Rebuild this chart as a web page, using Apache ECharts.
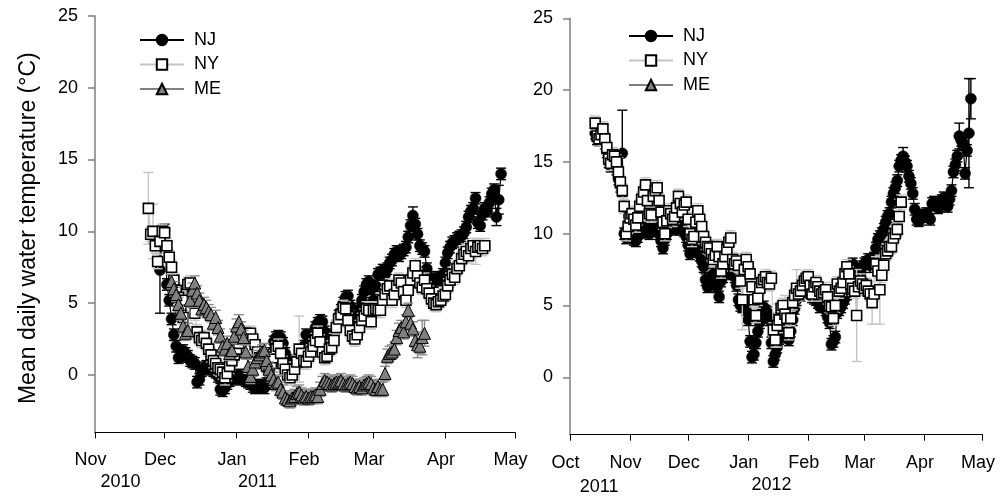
<!DOCTYPE html>
<html><head><meta charset="utf-8">
<script src="https://cdn.jsdelivr.net/npm/echarts@6/dist/echarts.min.js"></script>
<style>html,body{margin:0;padding:0;background:#fff}#c{width:1007px;height:500px}</style>
</head><body><div id="c"></div>
<script>
// ---------------- DATA ----------------
// Left panel: winter 2010-2011 (daily means, first date given)
const njA_start = '2010-11-29';
const njA = [7.3, 9.8,
  10.1, 6.3, 5.2, 3.9, 2.8, 2.0, 1.2, 1.3, 1.7, 1.5, 1.3, 1.0, 0.9, 0.8, -0.5, -0.3, 0.3, 0.5, 0.6, 0.4, 0.5, 0.3, 0.2, -0.1, -1.0, -1.1, -0.9, -0.6, -0.4, -0.3, -0.2,
  -0.2, 0.0, -0.3, -0.2, -0.4, -0.5, -0.6, -0.8, -0.9, -0.8, -0.7, -0.8, -0.9, -0.6, 0.3, 1.5, 2.3, 2.6, 2.7, 2.6, 2.2, 1.5, 1.0, 0.6, 0.5, 0.7, 0.9, 1.0, 1.5, 2.0, 2.8,
  2.6, 2.2, 2.7, 3.3, 3.6, 3.8, 3.7, 3.0, 2.4, 2.0, 2.2, 2.8, 3.4, 4.1, 4.5, 5.0, 5.4, 5.5, 4.8, 4.0, 3.6, 4.0, 4.6, 5.2, 5.8, 6.3, 6.5, 6.0,
  5.2, 6.2, 7.0, 7.1, 7.3, 7.0, 7.4, 7.8, 8.0, 8.4, 8.6, 8.3, 8.5, 8.7, 8.9, 9.6, 10.4, 11.1, 10.5, 9.8, 9.0, 8.8, 8.6, 7.4, 6.8, 6.6, 6.5, 6.7, 6.8, 6.6, 7.0,
  7.8, 8.5, 8.9, 9.2, 9.3, 9.5, 9.6, 9.7, 9.9, 10.3, 11.0, 11.4, 11.6, 12.3, 10.6, 10.4, 11.2, 11.6, 11.4, 12.0, 12.6, 12.9, 11.0, 12.2, 14.0];
const nyA_start = '2010-11-24';
const nyA = [11.6, 9.8, 10.0, 9.0, 7.9, 9.3, 10.0,
  9.9, 9.0, 8.2, 7.5, 6.6, 5.9, 5.4, 4.5, 4.0, 5.2, 6.3, 6.4, 5.5, 4.3, 3.0, 2.6, 2.4, 2.6, 2.2, 1.8, 1.4, 1.0, 0.8, 0.5, 0.4, 0.2, -0.2, 0.1, 0.6, 1.0, 1.4,
  1.8, 2.2, 2.5, 2.8, 2.9, 2.7, 2.9, 2.5, 2.1, 1.6, 1.2, 1.0, 0.8, 0.6, 0.5, 0.8, 1.2, 1.8, 2.0, 1.5, 0.8, 0.4, 0.0, -0.2, 0.0, 0.4, 0.9, 1.8, 1.5, 1.0, 0.9,
  1.3, 1.6, 2.0, 2.4, 2.9, 2.3, 1.6, 1.2, 1.3, 1.8, 1.9, 2.4, 3.3, 3.9, 4.2, 4.7, 4.6, 3.8, 3.1, 2.7, 2.5, 2.8, 3.3, 3.8, 4.1, 4.6, 4.5, 3.7,
  4.5, 4.6, 4.5, 4.5, 5.2, 5.6, 6.0, 6.2, 5.2, 5.6, 6.2, 6.6, 6.4, 5.8, 5.2, 5.9, 6.6, 7.1, 7.6, 6.9, 6.4, 6.1, 6.6, 6.0, 5.7, 5.3, 5.0, 4.9, 5.1, 5.2, 5.5,
  5.6, 6.2, 6.6, 7.0, 6.8, 7.4, 7.6, 8.1, 8.4, 8.6, 8.3, 8.8, 9.0, 8.6, 8.9, 9.0, 8.8, 9.0];
const meA_start = '2010-12-04';
const meA = [6.5, 6.0, 5.6, 4.9, 4.3, 3.4, 2.9, 3.1, 5.2, 5.9, 6.4, 5.7, 5.2, 4.6, 4.9, 4.7, 4.4, 4.2, 3.6, 4.0, 3.3, 2.7, 2.0, 1.8, 2.2, 1.5, 1.7, 2.7,
  3.4, 3.7, 3.2, 2.6, 1.6, 0.6, -0.1, 0.4, 0.9, 1.2, 1.4, 1.6, 1.7, 1.0, 0.4, 0.0, -0.3, -0.6, -0.5, -1.0, -1.2, -1.6, -1.7, -1.8, -1.6, -1.5, -1.3, -1.2, -1.4, -1.6, -1.5,
  -1.6, -1.5, -1.5, -1.4, -1.5, -1.0, -0.6, -0.4, -0.5, -0.6, -0.7, -0.6, -0.5, -0.5, -0.4, -0.6, -0.7, -0.6, -0.5, -0.6, -0.8, -0.9, -0.8, -0.9, -0.7, -0.6, -0.5, -0.6,
  -0.9, -1.0, -0.8, -1.0, -1.0, 0.1, 1.3, 1.5, 1.6, 1.8, 2.6, 3.1, 3.3, 3.0, 3.7, 4.5, 3.6, 3.2, 2.4, 2.1, 2.0, 2.6, 2.9];

// Right panel: winter 2011-2012
const njB_start = '2011-10-14';
const njB = [17.0, 16.6, 16.5, 16.7, 16.9, 16.3, 15.7, 15.0, 14.7, 15.2, 15.0, 14.5, 13.8, 13.3, 15.6, 10.0, 9.7, 9.8,
  10.2, 9.9, 9.6, 9.5, 9.8, 10.1, 10.3, 10.2, 10.4, 10.1, 10.0, 10.3, 10.4, 10.2, 10.3, 10.0, 9.5, 9.0, 9.6, 10.0, 10.4, 10.6, 10.5, 10.4, 10.3, 10.6, 10.8, 10.4, 10.2, 9.8,
  9.2, 8.6, 8.8, 9.1, 9.3, 9.0, 8.5, 8.1, 7.7, 6.8, 6.3, 6.4, 6.9, 7.2, 6.8, 6.3, 5.6, 6.7, 7.0, 7.3, 7.5, 7.6, 7.4, 7.2, 7.0, 6.4, 5.4, 5.0, 4.9, 5.2, 4.7,
  4.0, 2.5, 1.4, 1.6, 2.4, 3.2, 3.8, 4.7, 4.9, 4.6, 4.5, 4.0, 2.4, 1.1, 1.6, 2.1, 2.7, 3.3, 3.6, 3.2, 2.8, 2.6, 3.2, 4.0, 4.8, 5.4, 5.8, 5.7, 5.9, 6.2, 6.1,
  6.3, 6.0, 5.6, 5.5, 5.4, 5.2, 4.9, 5.1, 5.0, 4.7, 4.2, 3.8, 2.3, 2.5, 2.8, 4.5, 4.7, 4.9, 5.2, 5.5, 5.8, 6.3, 7.2, 7.9, 7.5, 7.0, 6.8, 7.3, 7.7,
  7.9, 8.0, 8.2, 8.0, 7.7, 8.3, 9.0, 9.6, 9.8, 10.0, 10.3, 10.8, 11.2, 11.4, 12.2, 12.8, 13.2, 13.7, 14.7, 15.1, 15.4, 15.0, 14.7, 14.0, 13.5, 12.8, 11.7, 11.0, 10.9, 11.0, 11.2,
  11.3, 11.4, 11.2, 11.0, 12.1, 12.2, 12.0, 11.8, 11.9, 12.3, 12.5, 12.1, 11.9, 12.4, 13.0, 14.3, 14.8, 15.4, 16.8, 16.5, 16.3, 14.2, 15.8, 17.0, 19.4];
const nyB_start = '2011-10-14';
const nyB = [17.7, 16.8, 16.6, 16.9, 17.3, 16.6, 16.0, 15.2, 14.9, 15.5, 15.4, 15.0, 14.3, 13.6, 13.0, 11.9, 10.0, 10.5,
  11.1, 11.4, 11.0, 10.6, 11.1, 11.9, 12.4, 12.9, 13.4, 12.3, 11.4, 11.3, 12.6, 13.0, 13.2, 12.3, 11.5, 10.8, 10.0, 10.9, 11.6, 11.4, 11.0, 11.2, 11.8, 12.6, 12.1, 11.5, 12.0, 12.2,
  11.0, 10.0, 9.6, 9.8, 10.8, 11.6, 11.0, 10.5, 9.8, 9.4, 9.1, 9.0, 8.6, 8.2, 8.5, 9.1, 8.4, 7.4, 7.9, 8.4, 8.9, 9.4, 9.7, 8.2, 7.9, 8.1, 7.8, 6.7, 5.4, 7.5, 8.2,
  7.7, 7.2, 6.3, 5.4, 4.3, 5.5, 6.2, 6.6, 6.8, 7.0, 6.6, 6.5, 6.9, 3.3, 2.6, 3.6, 4.0, 4.8, 5.0, 4.4, 4.1, 3.1, 4.1, 5.2, 5.7, 6.2, 5.8, 6.0, 6.4, 6.7, 6.9,
  7.0, 6.4, 5.8, 6.3, 6.6, 6.3, 6.0, 5.8, 5.9, 6.1, 5.6, 5.0, 4.9, 4.1, 5.0, 6.5, 6.0, 6.2, 6.6, 7.2, 7.7, 7.2, 6.5, 6.2, 6.0, 4.3, 6.3, 6.7, 6.5,
  6.2, 6.4, 6.0, 5.8, 5.2, 5.8, 7.9, 7.4, 6.1, 7.1, 7.8, 8.6, 8.8, 9.1, 9.1, 9.7, 10.0, 10.3, 11.2, 12.2];

// Error bars (SE): typical size per series, plus the visibly larger ones
const njErrTypical = 0.4, nyErrTypical = 0.5, meErrTypical = 0.5;
const njA_bigErr = [['2010-11-29', 3.0], ['2011-04-24', 1.0], ['2011-04-23', 0.6], ['2011-03-18', 0.6]];
const nyA_bigErr = [['2010-11-24', 2.5], ['2010-11-26', 1.9], ['2011-01-28', 2.3], ['2011-04-14', 0.9]];
const meA_bigErr = [['2011-03-22', 1.2], ['2011-03-20', 0.9], ['2011-03-23', 0.9]];
const njB_bigErr = [['2011-10-28', 3.0], ['2012-04-24', 3.8], ['2012-04-25', 1.4], ['2012-04-19', 0.9], ['2012-03-21', 0.6]];
const nyB_bigErr = [['2012-02-26', 3.2], ['2012-03-05', 1.5], ['2012-03-09', 2.4], ['2011-12-29', 2.1], ['2012-01-16', 1.5], ['2012-01-20', 1.3], ['2012-01-26', 1.3], ['2011-10-26', 1.0], ['2012-03-19', 1.2]];

// Axes
const yTicks = [0, 5, 10, 15, 20, 25];
const yMin = -4, yMax = 25;
const monthsA = ['Nov', 'Dec', 'Jan', 'Feb', 'Mar', 'Apr', 'May'];
const monthDatesA = ['2010-11-01', '2010-12-01', '2011-01-01', '2011-02-01', '2011-03-01', '2011-04-01', '2011-05-01'];
const yearsA = ['2010', '2011'];
const yearAnchorA = ['2010-11-12', '2011-01-10'];   // dates under which the year labels sit
const monthsB = ['Oct', 'Nov', 'Dec', 'Jan', 'Feb', 'Mar', 'Apr', 'May'];
const monthDatesB = ['2011-10-01', '2011-11-01', '2011-12-01', '2012-01-01', '2012-02-01', '2012-03-01', '2012-04-01', '2012-05-01'];
const yearsB = ['2011', '2012'];
const yearAnchorB = ['2011-10-16', '2012-01-13'];
const seriesNames = ['NJ', 'NY', 'ME'];
const yTitle = 'Mean daily water temperature (°C)';

// ---------------- BUILD ----------------
const DAY = 86400000;
function utc(s) { const p = s.split('-').map(Number); return Date.UTC(p[0], p[1] - 1, p[2]); }
function dayIdx(origin, s) { return Math.round((utc(s) - utc(origin)) / DAY); }
function isoOf(t) { return new Date(t).toISOString().slice(0, 10); }
function pts(origin, start, vals) { const s0 = dayIdx(origin, start); return vals.map((v, i) => [s0 + i, v]); }
function errs(origin, start, vals, typ, big) {
  const s0 = dayIdx(origin, start), t0 = utc(start);
  const m = {}; big.forEach(b => { m[b[0]] = b[1]; });
  return vals.map((v, i) => { const d = isoOf(t0 + i * DAY); const e = (d in m) ? m[d] : typ; return [s0 + i, v - e, v + e]; });
}
const oA = monthDatesA[0], oB = monthDatesB[0];
const ticksA = monthDatesA.map(d => dayIdx(oA, d));
const ticksB = monthDatesB.map(d => dayIdx(oB, d));
const yrPosA = yearAnchorA.map(d => dayIdx(oA, d));
const yrPosB = yearAnchorB.map(d => dayIdx(oB, d));

const FONT = '"Liberation Sans", Arial, sans-serif';
function labelFmt(ticks, labels, styleKeys) {
  return function (v) {
    const i = ticks.indexOf(Math.round(v));
    if (i < 0) return '';
    return '{' + styleKeys[i] + '|' + labels[i] + '}';
  };
}
const richBase = { fontSize: 18, fontFamily: FONT, color: '#000', lineHeight: 22 };
const rich = {
  m: Object.assign({}, richBase, { padding: [0, 9, 0, 0] }),
  y: Object.assign({}, richBase, { padding: [0, 0, 0, 0] }),
  lo: Object.assign({}, richBase, { padding: [5, 0, 0, 0] })
};

function xAxisCfg(gi, ticks, months) {
  return {
    type: 'value', gridIndex: gi, min: ticks[0], max: ticks[ticks.length - 1],
    axisLine: { show: true, onZero: false, lineStyle: { color: '#000', width: 1 } },
    axisTick: { show: true, inside: false, length: 6, customValues: ticks, lineStyle: { color: '#000' } },
    axisLabel: { customValues: ticks, showMinLabel: true, showMaxLabel: true, hideOverlap: false,
      formatter: labelFmt(ticks, months, months.map(() => 'm')), margin: 17, rich: rich, fontSize: 18, fontFamily: FONT, color: '#000' },
    splitLine: { show: false }
  };
}
function yearAxisCfg(gi, ticks, pos, years, keys) {
  return {
    type: 'value', gridIndex: gi, min: ticks[0], max: ticks[ticks.length - 1], position: 'bottom',
    axisLine: { show: false }, axisTick: { show: false }, splitLine: { show: false },
    axisLabel: { customValues: pos, showMinLabel: true, showMaxLabel: true, hideOverlap: false,
      formatter: labelFmt(pos, years, keys), margin: 39, rich: rich, fontSize: 18, fontFamily: FONT, color: '#000' }
  };
}
function yAxisCfg(gi, withName) {
  const c = {
    type: 'value', gridIndex: gi, min: yMin, max: yMax,
    axisLine: { show: true, onZero: false, lineStyle: { color: '#808080', width: 1.5 } },
    axisTick: { show: true, inside: false, length: 7, customValues: yTicks, lineStyle: { color: '#808080', width: 1.5 } },
    axisLabel: { customValues: yTicks, margin: 17, fontSize: 18, fontFamily: FONT, color: '#000' },
    splitLine: { show: false }
  };
  if (withName) {
    c.name = yTitle; c.nameLocation = 'middle'; c.nameGap = 55;
    c.nameTextStyle = { fontSize: 23, fontFamily: FONT, color: '#000', padding: [0, 8, 0, 0] };
  }
  return c;
}

function errSeries(gi, data, color, z) {
  return {
    type: 'custom', xAxisIndex: gi, yAxisIndex: gi, z: z, silent: true, data: data,
    encode: { x: 0, y: [1, 2] },
    renderItem: function (params, api) {
      const x = api.value(0);
      const lo = api.coord([x, api.value(1)]);
      const hi = api.coord([x, api.value(2)]);
      const hw = 5;
      const st = { stroke: color, lineWidth: 1.4 };
      return {
        type: 'group', children: [
          { type: 'line', shape: { x1: lo[0], y1: lo[1], x2: hi[0], y2: hi[1] }, style: st },
          { type: 'line', shape: { x1: lo[0] - hw, y1: lo[1], x2: lo[0] + hw, y2: lo[1] }, style: st },
          { type: 'line', shape: { x1: hi[0] - hw, y1: hi[1], x2: hi[0] + hw, y2: hi[1] }, style: st }
        ]
      };
    }
  };
}
const styles = {
  NJ: { symbol: 'circle', symbolSize: 11, itemStyle: { color: '#000', borderColor: '#000', borderWidth: 0.5 }, lineStyle: { color: '#000', width: 1.2 }, err: '#000' },
  NY: { symbol: 'rect', symbolSize: 10, itemStyle: { color: '#fff', borderColor: '#000', borderWidth: 1.6 }, lineStyle: { color: '#c4c4c4', width: 1.2 }, err: '#c4c4c4' },
  ME: { symbol: 'triangle', symbolSize: 12, itemStyle: { color: '#808080', borderColor: '#000', borderWidth: 1 }, lineStyle: { color: '#808080', width: 1.2 }, err: '#8c8c8c' }
};
function lineSeries(name, gi, data, z) {
  const s = styles[name];
  return {
    type: 'line', name: name, xAxisIndex: gi, yAxisIndex: gi, z: z, data: data,
    symbol: s.symbol, symbolSize: s.symbolSize, showSymbol: true, showAllSymbol: true,
    itemStyle: s.itemStyle, lineStyle: s.lineStyle, silent: true, emphasis: { disabled: true }
  };
}

const series = [
  errSeries(0, errs(oA, njA_start, njA, njErrTypical, njA_bigErr), styles.NJ.err, 1),
  lineSeries('NJ', 0, pts(oA, njA_start, njA), 2),
  errSeries(0, errs(oA, nyA_start, nyA, nyErrTypical, nyA_bigErr), styles.NY.err, 3),
  lineSeries('NY', 0, pts(oA, nyA_start, nyA), 4),
  errSeries(0, errs(oA, meA_start, meA, meErrTypical, meA_bigErr), styles.ME.err, 5),
  lineSeries('ME', 0, pts(oA, meA_start, meA), 6),
  errSeries(1, errs(oB, njB_start, njB, njErrTypical, njB_bigErr), styles.NJ.err, 1),
  lineSeries('NJ', 1, pts(oB, njB_start, njB), 2),
  errSeries(1, errs(oB, nyB_start, nyB, nyErrTypical, nyB_bigErr), styles.NY.err, 3),
  lineSeries('NY', 1, pts(oB, nyB_start, nyB), 4)
];

const legendBase = {
  orient: 'vertical', padding: 0, itemWidth: 44, itemHeight: 13, itemGap: 6.5, selectedMode: false,
  data: seriesNames,
  textStyle: { fontSize: 18, fontFamily: FONT, color: '#000', padding: [0, 0, 0, 5] }
};

const option = {
  animation: false,
  backgroundColor: '#fff',
  grid: [
    { left: 95, top: 15.9, width: 420, height: 416.5 },
    { left: 570, top: 18.3, width: 419.3, height: 416.4 }
  ],
  xAxis: [
    xAxisCfg(0, ticksA, monthsA),
    xAxisCfg(1, ticksB, monthsB),
    yearAxisCfg(0, ticksA, yrPosA, yearsA, ['y', 'y']),
    yearAxisCfg(1, ticksB, yrPosB, yearsB, ['lo', 'y'])
  ],
  yAxis: [yAxisCfg(0, true), yAxisCfg(1, false)],
  legend: [
    Object.assign({}, legendBase, { left: 139, top: 31 }),
    Object.assign({}, legendBase, { left: 628, top: 27 })
  ],
  series: series
};
const chart = echarts.init(document.getElementById('c'), null, { renderer: 'canvas' });
chart.setOption(option);
</script>
</body></html>
